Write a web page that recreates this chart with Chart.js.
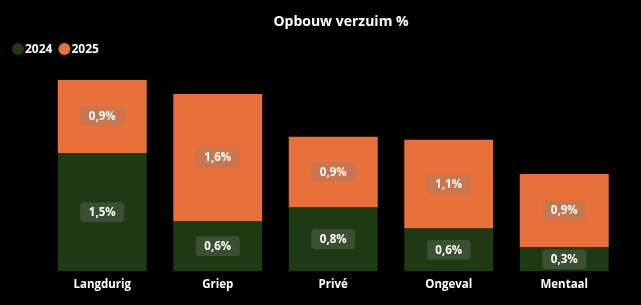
<!DOCTYPE html>
<html>
<head>
<meta charset="utf-8">
<script src="https://cdn.jsdelivr.net/npm/chart.js@4/dist/chart.umd.min.js"></script>
<style>
html,body{margin:0;padding:0;background:#000;}
#wrap{width:641px;height:305px;position:relative;}
</style>
</head>
<body>
<div id="wrap"><canvas id="c" width="641" height="305"></canvas></div>
<script>
const categories = ['Langdurig', 'Griep', 'Privé', 'Ongeval', 'Mentaal'];
const seriesNames = ['2024', '2025'];
const values2024 = [1.52, 0.64, 0.82, 0.55, 0.31];
const values2025 = [0.94, 1.64, 0.91, 1.14, 0.94];
const seriesColors = ['#1e3a12', '#e8703a'];
const titleText = 'Opbouw verzuim %';

const FONT = "'Open Sans', 'Segoe UI', sans-serif";

const titleLegendPlugin = {
  id: 'customTitleLegend',
  afterDraw(chart) {
    const ctx = chart.ctx;
    ctx.save();
    ctx.font = 'bold 14px ' + FONT;
    ctx.fillStyle = '#ffffff';
    ctx.textAlign = 'center';
    ctx.textBaseline = 'middle';
    ctx.fillText(titleText, 341, 22);
    // legend
    ctx.font = 'bold 12px ' + FONT;
    ctx.textAlign = 'left';
    let x = 12;
    const y = 49;
    chart.data.datasets.forEach((ds) => {
      ctx.fillStyle = ds.backgroundColor;
      ctx.beginPath();
      ctx.arc(x + 6, y, 6, 0, Math.PI * 2);
      ctx.fill();
      ctx.fillStyle = '#ffffff';
      ctx.fillText(ds.label, x + 13, y + 0.5);
      x += 13 + ctx.measureText(ds.label).width + 6;
    });
    ctx.restore();
  }
};

const labelPlugin = {
  id: 'segLabels',
  afterDatasetsDraw(chart) {
    const ctx = chart.ctx;
    ctx.save();
    ctx.font = 'bold 11.5px ' + FONT;
    ctx.textAlign = 'center';
    ctx.textBaseline = 'middle';
    chart.data.datasets.forEach((ds, di) => {
      const meta = chart.getDatasetMeta(di);
      meta.data.forEach((bar, i) => {
        const v = ds.data[i];
        const txt = v.toFixed(1).replace('.', ',') + '%';
        const cx = bar.x;
        const cy = (bar.y + bar.base) / 2;
        const w = 44, h = 20;
        ctx.fillStyle = 'rgba(128,128,128,0.3)';
        ctx.beginPath();
        ctx.roundRect(cx - w / 2, cy - h / 2, w, h, 4);
        ctx.fill();
        ctx.fillStyle = '#ffffff';
        ctx.fillText(txt, cx, cy + 0.5);
      });
    });
    ctx.restore();
  }
};

new Chart(document.getElementById('c'), {
  type: 'bar',
  data: {
    labels: categories,
    datasets: [
      { label: seriesNames[0], data: values2024, backgroundColor: seriesColors[0], borderWidth: 0 },
      { label: seriesNames[1], data: values2025, backgroundColor: seriesColors[1], borderWidth: 0 }
    ]
  },
  options: {
    responsive: false,
    animation: false,
    layout: { padding: { left: 12, right: 19, top: 66, bottom: 6 } },
    datasets: { bar: { categoryPercentage: 1, barPercentage: 0.77 } },
    plugins: {
      title: { display: false },
      tooltip: { enabled: false },
      legend: { display: false }
    },
    scales: {
      x: {
        stacked: true,
        grid: { display: false, drawTicks: false },
        border: { display: false },
        ticks: { color: '#ffffff', padding: 7, font: { family: FONT, size: 11.5, weight: 'bold' } }
      },
      y: {
        stacked: true,
        min: 0,
        max: 2.64,
        grid: { display: false, drawTicks: false },
        border: { display: false },
        ticks: { display: false },
        afterFit(scale) { scale.width = 32.5; }
      }
    }
  },
  plugins: [titleLegendPlugin, labelPlugin]
});
</script>
</body>
</html>
